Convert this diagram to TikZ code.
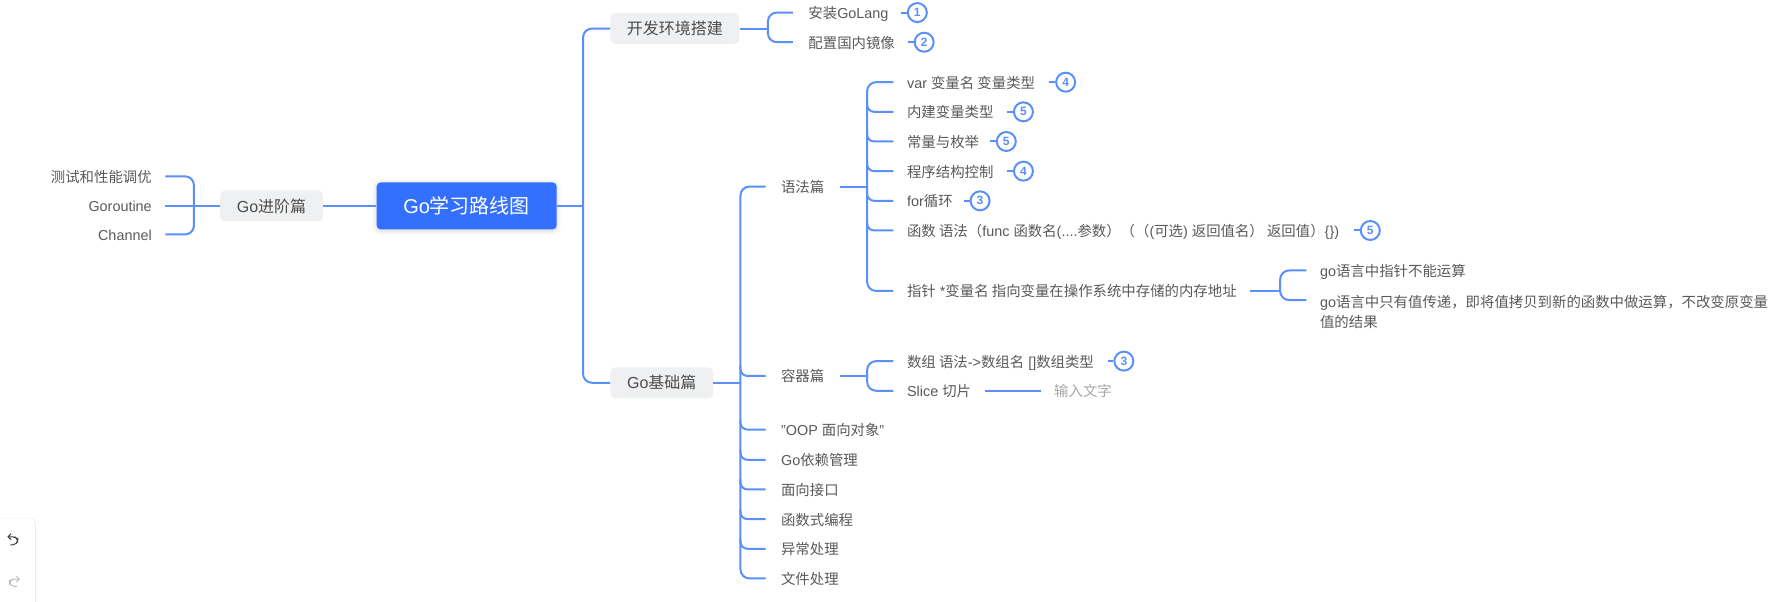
\documentclass[tikz,border=0pt]{standalone}
\usepackage{fontspec}
\setmainfont{Liberation Sans}
\newfontfamily\cjk{Noto Sans CJK SC}
\newcommand{\zh}[1]{{\cjk #1}}
\usetikzlibrary{arrows.meta,shadows.blur}
\definecolor{linec}{HTML}{5B8FF9}
\definecolor{rootc}{HTML}{3370FF}
\definecolor{boxc}{HTML}{EFF0F2}
\definecolor{txt}{HTML}{595959}
\begin{document}
\begin{tikzpicture}[x=1.141pt,y=-1.141pt,
  conn/.style={draw=linec,line width=2pt,rounded corners=9pt},
  tail/.style={draw=linec,line width=2pt},
  rootbox/.style={fill=rootc,rounded corners=4pt,text=white,font=\fontsize{20}{24}\selectfont,minimum width=180pt,minimum height=47pt,inner sep=0pt,blur shadow={shadow xshift=0pt,shadow yshift=-1pt,shadow blur radius=5pt,shadow opacity=18,shadow blur steps=8}},
  topic/.style={fill=boxc,rounded corners=5pt,text=txt!85!black,font=\fontsize{16}{20}\selectfont,minimum height=31pt,inner sep=0pt},
  leaf/.style={anchor=west,text=txt,font=\fontsize{14.4}{17}\selectfont,inner xsep=13.7pt,inner ysep=2pt,outer sep=0pt,text height=13pt,text depth=1pt},
  leafwide/.style={leaf,inner xsep=15.5pt},
  leafleft/.style={leaf,anchor=east},
  badge/.style={circle,draw=linec,line width=2pt,fill=white,text=linec,font=\fontsize{12}{12}\selectfont\bfseries,minimum size=19pt,inner sep=0pt},
]
\useasboundingbox (0,0) rectangle (1568,527.6);
% root and topics
\node[rootbox] (root) at (409,180.5) {Go\zh{学习路线图}};
\node[topic,minimum width=103pt] (adv) at (238,180.5) {Go\zh{进阶篇}};
\node[topic,minimum width=129pt] (env) at (591.5,25) {\zh{开发环境搭建}};
\node[topic,minimum width=103pt] (base) at (580,335.5) {Go\zh{基础篇}};
% left leaves
\node[leafleft] (l1) at (145,154.5) {\zh{测试和性能调优}};
\node[leafleft] (l2) at (145,180.5) {Goroutine};
\node[leafleft] (l3) at (145,205.5) {Channel};
\coordinate (sl) at (170,180.5);
\draw[conn] (root.west) -- (adv.east);
\draw[conn] (adv.west) -- (l2.east);
\draw[conn] (l1.east) -- (sl |- l1.east) -- (sl |- l3.east) -- (l3.east);
% root to right
\coordinate (sr) at (511,180.5);
\draw[conn] (env.west) -- (sr |- env.west) -- (sr |- base.west) -- (base.west);
\draw[conn] (root.east) -- (sr);
% env
\node[leafwide] (e1) at (695,11) {\zh{安装}GoLang};
\node[leafwide] (e2) at (695,37) {\zh{配置国内镜像}};
\coordinate (se) at (673,25);
\draw[conn] (e1.west) -- (se |- e1.west) -- (se |- e2.west) -- (e2.west);
\draw[conn] (env.east) -- (se);
\node[badge] (b1) at (804,11) {1};
\node[badge] (b2) at (810,37) {2};
\draw[tail] (b1.west) -- ++(-5,0);
\draw[tail] (b2.west) -- ++(-5,0);
% base children
\node[leafwide] (yf) at (671,163.5) {\zh{语法篇}};
\node[leafwide] (rq) at (671,329.5) {\zh{容器篇}};
\node[leafwide] (oop) at (671,376.5) {"OOP \zh{面向对象}"};
\node[leafwide] (dep) at (671,403) {Go\zh{依赖管理}};
\node[leafwide] (itf) at (671,429) {\zh{面向接口}};
\node[leafwide] (fun) at (671,455) {\zh{函数式编程}};
\node[leafwide] (err) at (671,481) {\zh{异常处理}};
\node[leafwide] (fil) at (671,507) {\zh{文件处理}};
\coordinate (sb) at (649,335.5);
\draw[conn] (yf.west) -- (sb |- yf.west) -- (sb |- fil.west) -- (fil.west);
\draw[conn] (base.east) -- (sb);
\foreach \n in {rq,oop,dep,itf,fun,err}{
  \draw[conn,rounded corners=7pt] (sb |- \n.west) ++(0,-9) -- (sb |- \n.west) -- (\n.west);
}
% syntax leaves
\node[leaf] (s1) at (783,72) {var \zh{变量名 变量类型}};
\node[leaf] (s2) at (783,98) {\zh{内建变量类型}};
\node[leaf] (s3) at (783,124) {\zh{常量与枚举}};
\node[leaf] (s4) at (783,150) {\zh{程序结构控制}};
\node[leaf] (s5) at (783,176) {for\zh{循环}};
\node[leaf] (s6) at (783,202) {\zh{函数 语法（}func \zh{函数名}(....\zh{参数）（（}(\zh{可选}) \zh{返回值名） 返回值）}\{\})};
\node[leaf] (s7) at (783,255) {\zh{指针} *\zh{变量名 指向变量在操作系统中存储的内存地址}};
\coordinate (ss) at (760,163.5);
\draw[conn] (s1.west) -- (ss |- s1.west) -- (ss |- s7.west) -- (s7.west);
\draw[conn] (yf.east) -- (ss);
\foreach \n in {s2,s3,s4,s5,s6}{
  \draw[conn,rounded corners=7pt] (ss |- \n.west) ++(0,-9) -- (ss |- \n.west) -- (\n.west);
}
\node[badge] (b3) at (934,72) {4};
\node[badge] (b4) at (897,98) {5};
\node[badge] (b5) at (882,124) {5};
\node[badge] (b6) at (897,150) {4};
\node[badge] (b7) at (859,176) {3};
\node[badge] (b8) at (1201,202) {5};
\foreach \n in {b3,b4,b5,b6,b7,b8}{\draw[tail] (\n.west) -- ++(-5,0);}
% pointer
\node[leaf] (p1) at (1145,237) {go\zh{语言中指针不能运算}};
\node[anchor=west,text=txt,font=\fontsize{14.4}{17}\selectfont,inner xsep=13.7pt,inner ysep=2pt,outer sep=0pt,align=left] (p2) at (1145,273.5) {go\zh{语言中只有值传递，即将值拷贝到新的函数中做运算，不改变原变量}\\[3.5pt]\zh{值的结果}};
\coordinate (sp) at (1122,255);
\coordinate (p2in) at (1145,263);
\draw[conn] (p1.west) -- (sp |- p1.west) -- (sp |- p2in) -- (p2in);
\draw[conn] (s7.east) -- (sp);
% containers
\node[leaf] (c1) at (783,316.5) {\zh{数组 语法}->\zh{数组名} []\zh{数组类型}};
\node[leaf] (c2) at (783,342.5) {Slice \zh{切片}};
\coordinate (sc) at (760,329.5);
\draw[conn] (c1.west) -- (sc |- c1.west) -- (sc |- c2.west) -- (c2.west);
\draw[conn] (rq.east) -- (sc);
\node[badge] (b9) at (985,316.5) {3};
\draw[tail] (b9.west) -- ++(-5,0);
\node[leaf,text=gray!70,inner xsep=0pt] (inp) at (924,342.5) {\zh{输入文字}};
\draw[tail] (c2.east) -- ([xshift=-13.7pt]inp.west);
% undo panel
\draw[black!10,fill=white,rounded corners=5pt] (-5,454) -- (31,454) -- (31,540) -- (-5,540);
\draw[black!75,line width=1pt,rounded corners=2pt,-{Straight Barb[length=3pt]}] (9,477.5) -- (13,477.5) -- (15.5,475) -- (15.5,472.5) -- (13,470.5) -- (6.5,470.5);
\draw[black!25,line width=1pt,rounded corners=2pt,-{Straight Barb[length=3pt]}] (15,514) -- (11,514) -- (8.5,511.5) -- (8.5,509.5) -- (11,507.5) -- (17.5,507.5);
\end{tikzpicture}
\end{document}
